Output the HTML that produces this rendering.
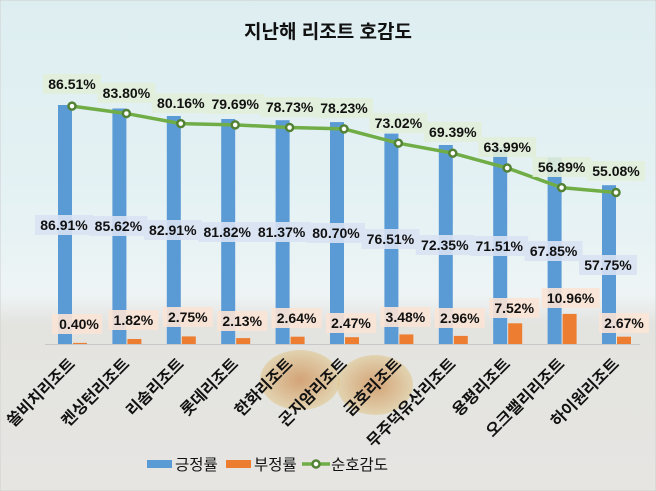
<!DOCTYPE html>
<html><head><meta charset="utf-8"><style>
html,body{margin:0;padding:0;width:656px;height:491px;overflow:hidden}
svg{display:block;font-family:"Liberation Sans","Noto Sans CJK KR",sans-serif}
</style></head><body>
<svg width="656" height="491" viewBox="0 0 656 491" xmlns="http://www.w3.org/2000/svg">
<defs>
<linearGradient id="bg" x1="0" y1="0" x2="0" y2="1">
<stop offset="0" stop-color="#ddeef1"/><stop offset="0.45" stop-color="#e6f2f4"/>
<stop offset="0.6" stop-color="#eef4f5"/><stop offset="0.66" stop-color="#e3e3e0"/>
<stop offset="1" stop-color="#e6e5e2"/></linearGradient>
<radialGradient id="lens" cx="0.5" cy="0.5" r="0.5"><stop offset="0" stop-color="#c87830"/><stop offset="1" stop-color="#e0c890"/></radialGradient>
</defs>
<rect x="0" y="0" width="656" height="491" fill="url(#bg)" stroke="#cfcfcf"/>
<ellipse cx="300" cy="380" rx="40" ry="30" fill="url(#lens)" opacity="0.6"/>
<ellipse cx="375" cy="385" rx="38" ry="30" fill="url(#lens)" opacity="0.6"/>
<text x="328" y="38" text-anchor="middle" font-size="19" font-weight="bold" fill="#111">지난해 리조트 호감도</text>
<line x1="45" y1="344.5" x2="640" y2="344.5" stroke="#c8c8c8"/>
<g fill="#5b9bd5">
<rect x="58" y="105" width="14" height="239"/>
<rect x="112.4" y="108.5" width="14" height="235.5"/>
<rect x="166.8" y="116" width="14" height="228"/>
<rect x="221.2" y="119" width="14" height="225"/>
<rect x="275.6" y="120.2" width="14" height="223.8"/>
<rect x="330" y="122.1" width="14" height="221.9"/>
<rect x="384.4" y="133.6" width="14" height="210.4"/>
<rect x="438.8" y="145" width="14" height="199"/>
<rect x="493.2" y="147.3" width="14" height="196.7"/>
<rect x="547.6" y="157.4" width="14" height="186.6"/>
<rect x="602" y="185.2" width="14" height="158.8"/>
</g>
<g fill="#ed7d31">
<rect x="73" y="342.9" width="14" height="1.1"/>
<rect x="127.4" y="339" width="14" height="5"/>
<rect x="181.8" y="336.4" width="14" height="7.6"/>
<rect x="236.2" y="338.1" width="14" height="5.9"/>
<rect x="290.6" y="336.7" width="14" height="7.3"/>
<rect x="345" y="337.2" width="14" height="6.8"/>
<rect x="399.4" y="334.4" width="14" height="9.6"/>
<rect x="453.8" y="335.9" width="14" height="8.1"/>
<rect x="508.2" y="323.3" width="14" height="20.7"/>
<rect x="562.6" y="313.9" width="14" height="30.1"/>
<rect x="617" y="336.7" width="14" height="7.3"/>
</g>
<polyline fill="none" stroke="#70ad47" stroke-width="3.5" points="72,106.1 126.4,113.5 180.8,123.6 235.2,124.9 289.6,127.5 344,128.9 398.4,143.2 452.8,153.2 507.2,168 561.6,187.6 616,192.5"/>
<g fill="#fff" stroke="#548235" stroke-width="2.5">
<circle cx="72" cy="106.1" r="3.5"/><circle cx="126.4" cy="113.5" r="3.5"/><circle cx="180.8" cy="123.6" r="3.5"/><circle cx="235.2" cy="124.9" r="3.5"/><circle cx="289.6" cy="127.5" r="3.5"/><circle cx="344" cy="128.9" r="3.5"/><circle cx="398.4" cy="143.2" r="3.5"/><circle cx="452.8" cy="153.2" r="3.5"/><circle cx="507.2" cy="168" r="3.5"/><circle cx="561.6" cy="187.6" r="3.5"/><circle cx="616" cy="192.5" r="3.5"/>
</g>
<g fill="#e2efda" opacity="0.9">
<rect x="43" y="74" width="58" height="20"/><rect x="97.4" y="83" width="58" height="20"/><rect x="151.8" y="93" width="58" height="20"/><rect x="206.2" y="94" width="58" height="20"/><rect x="260.6" y="97" width="58" height="20"/><rect x="315" y="98" width="58" height="20"/><rect x="369.4" y="113" width="58" height="20"/><rect x="423.8" y="122" width="58" height="20"/><rect x="478.2" y="137" width="58" height="20"/><rect x="532.6" y="157" width="58" height="20"/><rect x="587" y="161" width="58" height="20"/>
</g>
<g font-size="14" font-weight="bold" fill="#111" text-anchor="middle">
<text x="72" y="89">86.51%</text><text x="126.4" y="98">83.80%</text><text x="180.8" y="108">80.16%</text><text x="235.2" y="109">79.69%</text><text x="289.6" y="112">78.73%</text><text x="344" y="113">78.23%</text><text x="398.4" y="128">73.02%</text><text x="452.8" y="137">69.39%</text><text x="507.2" y="152">63.99%</text><text x="561.6" y="172">56.89%</text><text x="616" y="176">55.08%</text>
</g>
<g fill="#dae3f3" opacity="0.9">
<rect x="35" y="215" width="58" height="20"/><rect x="89.4" y="216" width="58" height="20"/><rect x="143.8" y="220" width="58" height="20"/><rect x="198.2" y="222" width="58" height="20"/><rect x="252.6" y="222" width="58" height="20"/><rect x="307" y="223" width="58" height="20"/><rect x="361.4" y="229" width="58" height="20"/><rect x="415.8" y="235" width="58" height="20"/><rect x="470.2" y="236" width="58" height="20"/><rect x="524.6" y="241" width="58" height="20"/><rect x="579" y="255" width="58" height="20"/>
</g>
<g font-size="14" font-weight="bold" fill="#111" text-anchor="middle">
<text x="64" y="230">86.91%</text><text x="118.4" y="231">85.62%</text><text x="172.8" y="235">82.91%</text><text x="227.2" y="237">81.82%</text><text x="281.6" y="237">81.37%</text><text x="336" y="238">80.70%</text><text x="390.4" y="244">76.51%</text><text x="444.8" y="250">72.35%</text><text x="499.2" y="251">71.51%</text><text x="553.6" y="256">67.85%</text><text x="608" y="270">57.75%</text>
</g>
<g fill="#fbe5d6" opacity="0.9">
<rect x="52" y="314" width="50" height="20"/><rect x="108.4" y="310" width="50" height="20"/><rect x="162.8" y="307" width="50" height="20"/><rect x="217.2" y="311" width="50" height="20"/><rect x="271.6" y="308" width="50" height="20"/><rect x="326" y="313" width="50" height="20"/><rect x="380.4" y="307" width="50" height="20"/><rect x="434.8" y="308" width="50" height="20"/><rect x="489.2" y="298" width="50" height="20"/><rect x="541.6" y="288" width="58" height="20"/><rect x="599" y="313" width="50" height="20"/>
</g>
<g font-size="14" font-weight="bold" fill="#111" text-anchor="middle">
<text x="79" y="329">0.40%</text><text x="133.4" y="325">1.82%</text><text x="187.8" y="322">2.75%</text><text x="242.2" y="326">2.13%</text><text x="296.6" y="323">2.64%</text><text x="351" y="328">2.47%</text><text x="405.4" y="322">3.48%</text><text x="459.8" y="323">2.96%</text><text x="514.2" y="313">7.52%</text><text x="570.6" y="303">10.96%</text><text x="624" y="328">2.67%</text>
</g>
<g font-size="16" font-weight="bold" fill="#111" text-anchor="end">
<text transform="translate(76,365) rotate(-45)">쏠비치리조트</text>
<text transform="translate(130.4,365) rotate(-45)">켄싱턴리조트</text>
<text transform="translate(184.8,365) rotate(-45)">리솜리조트</text>
<text transform="translate(239.2,365) rotate(-45)">롯데리조트</text>
<text transform="translate(293.6,365) rotate(-45)">한화리조트</text>
<text transform="translate(348,365) rotate(-45)">곤지암리조트</text>
<text transform="translate(402.4,365) rotate(-45)">금호리조트</text>
<text transform="translate(456.8,365) rotate(-45)">무주덕유산리조트</text>
<text transform="translate(511.2,365) rotate(-45)">용평리조트</text>
<text transform="translate(565.6,365) rotate(-45)">오크밸리리조트</text>
<text transform="translate(620,365) rotate(-45)">하이원리조트</text>
</g>
<rect x="147" y="460" width="25" height="8" fill="#5b9bd5"/>
<text x="175" y="470" font-size="15.5" fill="#111">긍정률</text>
<rect x="226" y="460" width="25" height="8" fill="#ed7d31"/>
<text x="254" y="470" font-size="15.5" fill="#111">부정률</text>
<line x1="302" y1="464" x2="330" y2="464" stroke="#70ad47" stroke-width="3.5"/>
<circle cx="316" cy="464" r="3.5" fill="#fff" stroke="#548235" stroke-width="2.5"/>
<text x="331" y="470" font-size="15.5" fill="#111">순호감도</text>
</svg>
</body></html>
